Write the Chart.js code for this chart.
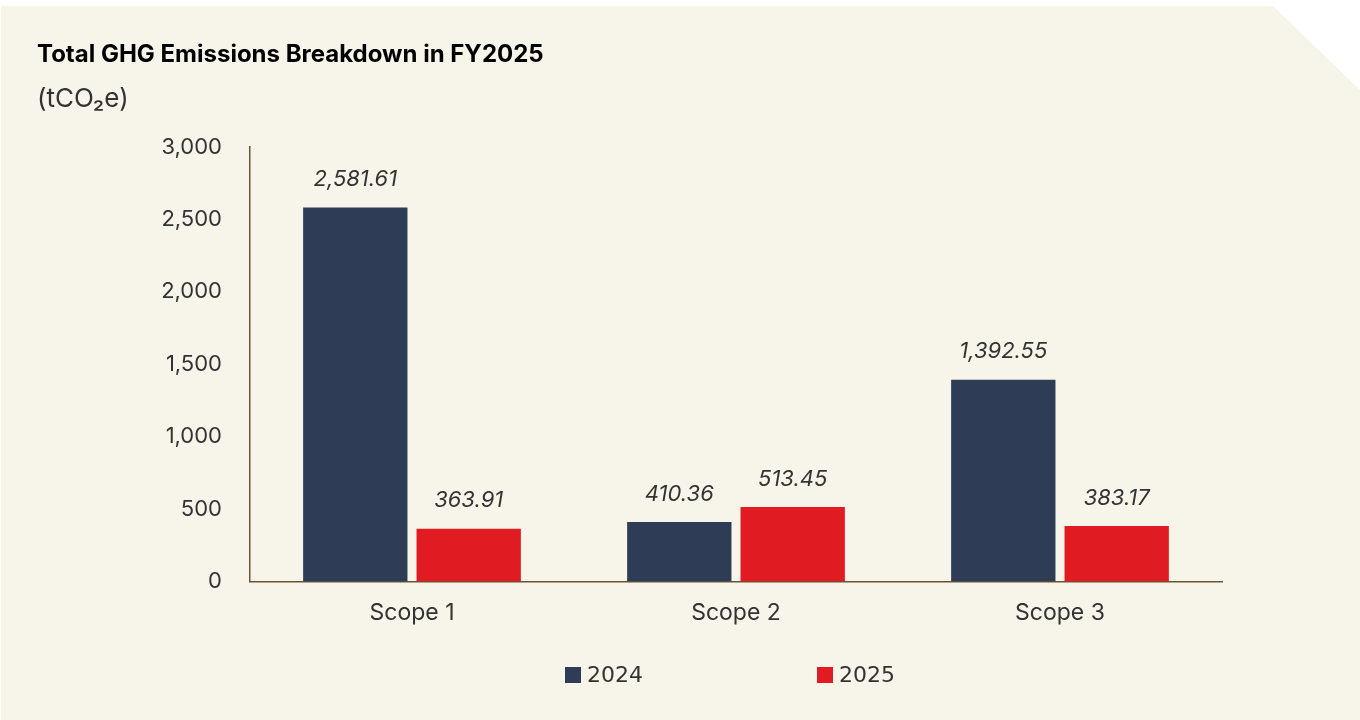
<!DOCTYPE html>
<html>
<head>
<meta charset="utf-8">
<script src="https://cdn.jsdelivr.net/npm/chart.js@4/dist/chart.umd.min.js"></script>
<style>
  html, body { margin: 0; padding: 0; background: #ffffff; }
  #wrap { position: relative; width: 1360px; height: 720px; overflow: hidden; }
  #panel {
    position: absolute; left: 1px; top: 6px; width: 1359px; height: 714px;
    background: #f7f5ea;
    clip-path: polygon(0 0, 1272px 0, 100% 84px, 100% 100%, 0 100%);
  }
  #chartBox { position: absolute; left: 0; top: 0; width: 1360px; height: 720px; }
  #legend {
    position: absolute; left: 565px; top: 662px;
    display: flex; gap: 0; font-family: "DejaVu Sans", sans-serif; font-size: 22px; color: #333;
  }
  .item { display: flex; align-items: center; width: 252px; }
  .swatch { width: 16px; height: 16px; margin-right: 6px; }
</style>
</head>
<body>
<div id="wrap">
  <div id="panel"></div>
  <div id="chartBox"><canvas id="ghgChart" width="1360" height="720"></canvas></div>
  <div id="legend"></div>
</div>
<script>
const categories = ['Scope 1', 'Scope 2', 'Scope 3'];
const seriesNames = ['2024', '2025'];
const values2024 = [2581.61, 410.36, 1392.55];
const values2025 = [363.91, 513.45, 383.17];
const seriesColors = ['#2f3c55', '#e01b22'];
const yTicks = [0, 500, 1000, 1500, 2000, 2500, 3000];

const textColor = '#333333';
const uiFont = 'Inter, "Open Sans", sans-serif';

// values above each bar
const valueLabels = {
  id: 'valueLabels',
  afterDatasetsDraw(chart) {
    const c = chart.ctx;
    c.save();
    c.font = 'italic 22px ' + uiFont;
    c.fillStyle = textColor;
    c.textAlign = 'center';
    c.textBaseline = 'middle';
    chart.data.datasets.forEach((ds, i) => {
      chart.getDatasetMeta(i).data.forEach((bar, j) => {
        const txt = ds.data[j].toLocaleString('en-US', { minimumFractionDigits: 2, maximumFractionDigits: 2 });
        c.fillText(txt, bar.x, bar.y - 28);
      });
    });
    c.restore();
  }
};

new Chart(document.getElementById('ghgChart'), {
  type: 'bar',
  data: {
    labels: categories,
    datasets: [
      { label: seriesNames[0], data: values2024, backgroundColor: seriesColors[0] },
      { label: seriesNames[1], data: values2025, backgroundColor: seriesColors[1] }
    ]
  },
  options: {
    responsive: false,
    animation: false,
    layout: { padding: { left: 37, right: 138, top: 0, bottom: 75 } },
    datasets: { bar: { categoryPercentage: 0.70, barPercentage: 0.92 } },
    plugins: {
      legend: { display: false },
      tooltip: { enabled: false },
      title: {
        display: true,
        text: 'Total GHG Emissions Breakdown in FY2025',
        align: 'start',
        color: '#000',
        font: { family: uiFont, size: 24, weight: 'bold', lineHeight: 1.2 },
        padding: { top: 40, bottom: 15 }
      },
      subtitle: {
        display: true,
        text: '(tCO₂e)',
        align: 'start',
        color: textColor,
        font: { family: uiFont, size: 26, weight: 'normal', lineHeight: 1.2 },
        padding: { top: 0, bottom: 32 }
      }
    },
    scales: {
      x: {
        grid: { display: false, drawTicks: false },
        border: { display: true, color: '#6b5535', width: 1.5 },
        ticks: { color: textColor, font: { family: uiFont, size: 23 }, padding: 18 }
      },
      y: {
        min: 0,
        max: yTicks[yTicks.length - 1],
        afterBuildTicks: (scale) => { scale.ticks = yTicks.map(v => ({ value: v })); },
        afterFit: (scale) => { scale.width = 213; },
        grid: { display: false, drawTicks: false },
        border: { display: true, color: '#6b5535', width: 1.5 },
        ticks: {
          color: textColor,
          font: { family: uiFont, size: 22 },
          padding: 28,
          callback: (v) => v.toLocaleString('en-US')
        }
      }
    }
  },
  plugins: [valueLabels]
});

// legend built from the series
const legendEl = document.getElementById('legend');
seriesNames.forEach((name, i) => {
  const item = document.createElement('div');
  item.className = 'item';
  const sw = document.createElement('span');
  sw.className = 'swatch';
  sw.style.background = seriesColors[i];
  const lbl = document.createElement('span');
  lbl.textContent = name;
  item.appendChild(sw);
  item.appendChild(lbl);
  legendEl.appendChild(item);
});
</script>
</body>
</html>
